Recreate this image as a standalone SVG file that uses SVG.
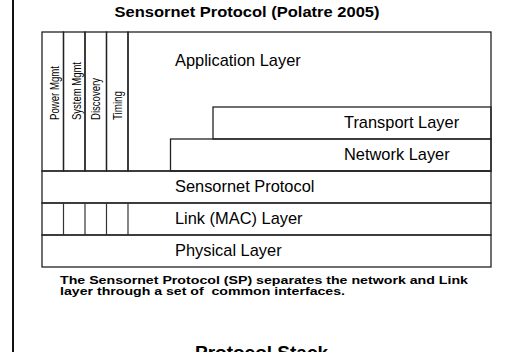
<svg xmlns="http://www.w3.org/2000/svg" width="516" height="352" viewBox="0 0 516 352">
<style>
.lbl{font-family:"Liberation Sans",Arial,sans-serif;font-size:16.4px;fill:#000}
.vl{font-family:"Liberation Sans",Arial,sans-serif;font-size:12px;fill:#000}
.bold{font-family:"Liberation Sans",Arial,sans-serif;font-weight:bold;fill:#000}
.box{fill:none;stroke:#222;stroke-width:1.3}
.ln{stroke:#333;stroke-width:1.2}
</style>
<rect width="516" height="352" fill="#fff"/>
<line x1="13" y1="0" x2="13" y2="352" stroke="#111" stroke-width="2"/>
<text class="bold" x="247" y="17" font-size="14.5" text-anchor="middle" textLength="265" lengthAdjust="spacingAndGlyphs">Sensornet Protocol (Polatre 2005)</text>

<g id="application-layer">
<rect class="box" x="128" y="32" width="363" height="139"/>
<text class="lbl" x="175" y="66">Application Layer</text>
</g>
<g id="power-mgmt">
<rect class="box" x="42" y="32" width="21.5" height="139"/>
<text class="vl" transform="translate(58.5,120) rotate(-90)" textLength="54" lengthAdjust="spacingAndGlyphs">Power Mgmt</text>
</g>
<g id="system-mgmt">
<rect class="box" x="63.5" y="32" width="21.5" height="139"/>
<text class="vl" transform="translate(80.5,120) rotate(-90)" textLength="58" lengthAdjust="spacingAndGlyphs">System Mgmt</text>
</g>
<g id="discovery">
<rect class="box" x="85" y="32" width="21.5" height="139"/>
<text class="vl" transform="translate(100,120) rotate(-90)" textLength="42" lengthAdjust="spacingAndGlyphs">Discovery</text>
</g>
<g id="timing">
<rect class="box" x="106.5" y="32" width="21.5" height="139"/>
<text class="vl" transform="translate(121.5,120) rotate(-90)" textLength="29" lengthAdjust="spacingAndGlyphs">Timing</text>
</g>
<g id="transport-layer">
<rect class="box" x="213" y="107" width="278" height="32" stroke="#777"/>
<text class="lbl" x="344" y="128">Transport Layer</text>
</g>
<g id="network-layer">
<rect class="box" x="170.5" y="139" width="320.5" height="32"/>
<text class="lbl" x="344" y="160">Network Layer</text>
</g>
<g id="sensornet-protocol">
<rect class="box" x="42" y="171" width="449" height="32"/>
<text class="lbl" x="175" y="192">Sensornet Protocol</text>
</g>
<g id="link-layer">
<rect class="box" x="42" y="203" width="449" height="32"/>
<line class="ln" x1="63.5" y1="203" x2="63.5" y2="235"/>
<line class="ln" x1="85" y1="203" x2="85" y2="235"/>
<line class="ln" x1="106.5" y1="203" x2="106.5" y2="235"/>
<line class="ln" x1="128" y1="203" x2="128" y2="235"/>
<text class="lbl" x="175" y="224">Link (MAC) Layer</text>
</g>
<g id="physical-layer">
<rect class="box" x="42" y="235" width="449" height="32"/>
<text class="lbl" x="175" y="256">Physical Layer</text>
</g>

<g id="caption">
<text class="bold" x="60" y="284" font-size="11.5" textLength="408" lengthAdjust="spacingAndGlyphs">The Sensornet Protocol (SP) separates the network and Link</text>
<text class="bold" x="60" y="295" font-size="11.5" textLength="285" lengthAdjust="spacingAndGlyphs" xml:space="preserve">layer through a set of  common interfaces.</text>
</g>
<text class="bold" x="195" y="359" font-size="19">Protocol Stack</text>
</svg>
